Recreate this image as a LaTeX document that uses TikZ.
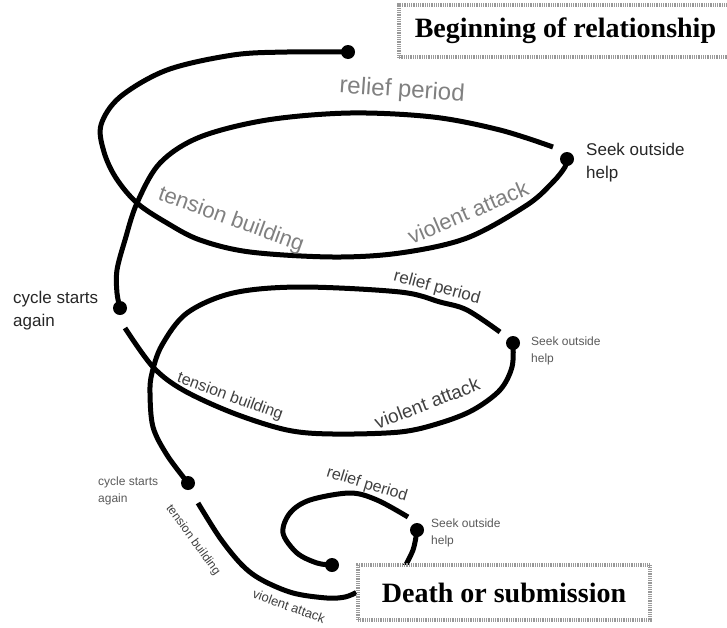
\documentclass[tikz,border=0pt]{standalone}
\usepackage{fontspec}
\setmainfont{Liberation Sans}
\newfontfamily\titlefont{Liberation Serif}
\usetikzlibrary{backgrounds,calc}
\begin{document}
\begin{tikzpicture}[x=1pt,y=-1pt,
  curve/.style={line width=5pt},
  dot/.style={circle, fill=black, inner sep=0pt, minimum size=14pt},
  titlebox/.style={draw=black!40, line width=3.5pt, dash pattern=on 1pt off 0.8pt, fill=white,
    font=\titlefont\bfseries\fontsize{28}{30}\selectfont, inner sep=0pt},
  side/.style={align=left, anchor=west, inner sep=0pt},
  bigside/.style={side, text=black!85, font=\fontsize{17}{23}\selectfont},
  smallside/.style={side, text=black!65, font=\fontsize{12}{16.5}\selectfont},
  stage/.style={inner sep=0pt, text=black!75},
  firststage/.style={inner sep=0pt, text=black!50},
]
\useasboundingbox (0,0) rectangle (727,627);
\clip (0,0) rectangle (727,627);

% dots
\node[dot] (A) at (348,52) {};
\node[dot] (B) at (567,159) {};
\node[dot] (C) at (120,308) {};
\node[dot] (D) at (513,343) {};
\node[dot] (E) at (188,483) {};
\node[dot] (F) at (417,530) {};
\node[dot] (G) at (332,565) {};

% boxes
\node[titlebox, anchor=west, minimum height=52pt, inner xsep=16pt] (begin) at (397,31) {Beginning of relationship};
\node[titlebox, minimum width=292pt, minimum height=55pt] (death) at (504,592.5) {Death or submission};

% free curve ends
\coordinate (b2) at (553,147);
\coordinate (c2) at (125,328);
\coordinate (d2) at (500,332);
\coordinate (e2) at (198,503);
\coordinate (f0) at (402,572);
\coordinate (f2) at (408,517);

\begin{pgfonlayer}{background}
\draw[curve] plot[smooth, tension=0.55] coordinates {(A.center) (287,52) (233,55) (167,70) (120,97) (101,125) (104,152) (116,178) (137,203) (167,223) (200,240) (250,252) (333,257) (400,253) (467,238) (527,205) (553,182) (565,167) (B.center)};
\draw[curve] plot[smooth, tension=0.55] coordinates {(b2) (500,130) (433,117) (350,113) (267,120) (200,137) (160,163) (137,203) (125,240) (117,270) (117,293) (C.center)};
\draw[curve] plot[smooth, tension=0.55] coordinates {(c2) (153,367) (183,390) (233,413) (287,430) (333,434) (400,432) (440,423) (473,410) (500,390) (512,367) (D.center)};
\draw[curve] plot[smooth, tension=0.55] coordinates {(d2) (467,310) (440,302) (400,292) (300,287) (233,293) (187,313) (162,345) (152,373) (150,393) (153,427) (167,455) (E.center)};
\draw[curve] plot[smooth, tension=0.55] coordinates {(e2) (220,538) (242,565) (262,580) (293,593) (327,598) (345,597) (death.west)};
\draw[curve] plot[smooth, tension=0.55] coordinates {(f0) (413,550) (F.center)};
\draw[curve] plot[smooth, tension=0.55] coordinates {(f2) (377,500) (350,493) (310,500) (290,513) (283,533) (297,553) (317,563) (G.center)};
\end{pgfonlayer}

% stage labels
\node[firststage, font=\fontsize{24}{24}\selectfont, rotate=-4] (rp1) at (402,91) {relief period};
\node[firststage, font=\fontsize{22}{22}\selectfont, rotate=-20] (tb1) at (231,220) {tension building};
\node[firststage, font=\fontsize{22}{22}\selectfont, rotate=23] (va1) at (468,212) {violent attack};
\node[stage, font=\fontsize{17}{17}\selectfont, rotate=-15] (rp2) at (437,288) {relief period};
\node[stage, font=\fontsize{16}{16}\selectfont, rotate=-20] (tb2) at (230,397) {tension building};
\node[stage, font=\fontsize{19}{19}\selectfont, rotate=21] (va2) at (427,403) {violent attack};
\node[stage, font=\fontsize{16}{16}\selectfont, rotate=-17] (rp3) at (367,485) {relief period};
\node[stage, font=\fontsize{12}{12}\selectfont, rotate=-54] (tb3) at (193,540) {tension building};
\node[stage, font=\fontsize{13}{13}\selectfont, rotate=-20] (va3) at (289,606) {violent attack};

% side labels
\node[bigside] (lb) at (586,163) {Seek outside\\help};
\node[bigside] (lc) at (13,311) {cycle starts\\again};
\node[smallside] (ld) at (531,351) {Seek outside\\help};
\node[smallside] (le) at (98,491) {cycle starts\\again};
\node[smallside] (lf) at (431,533) {Seek outside\\help};
\end{tikzpicture}
\end{document}
